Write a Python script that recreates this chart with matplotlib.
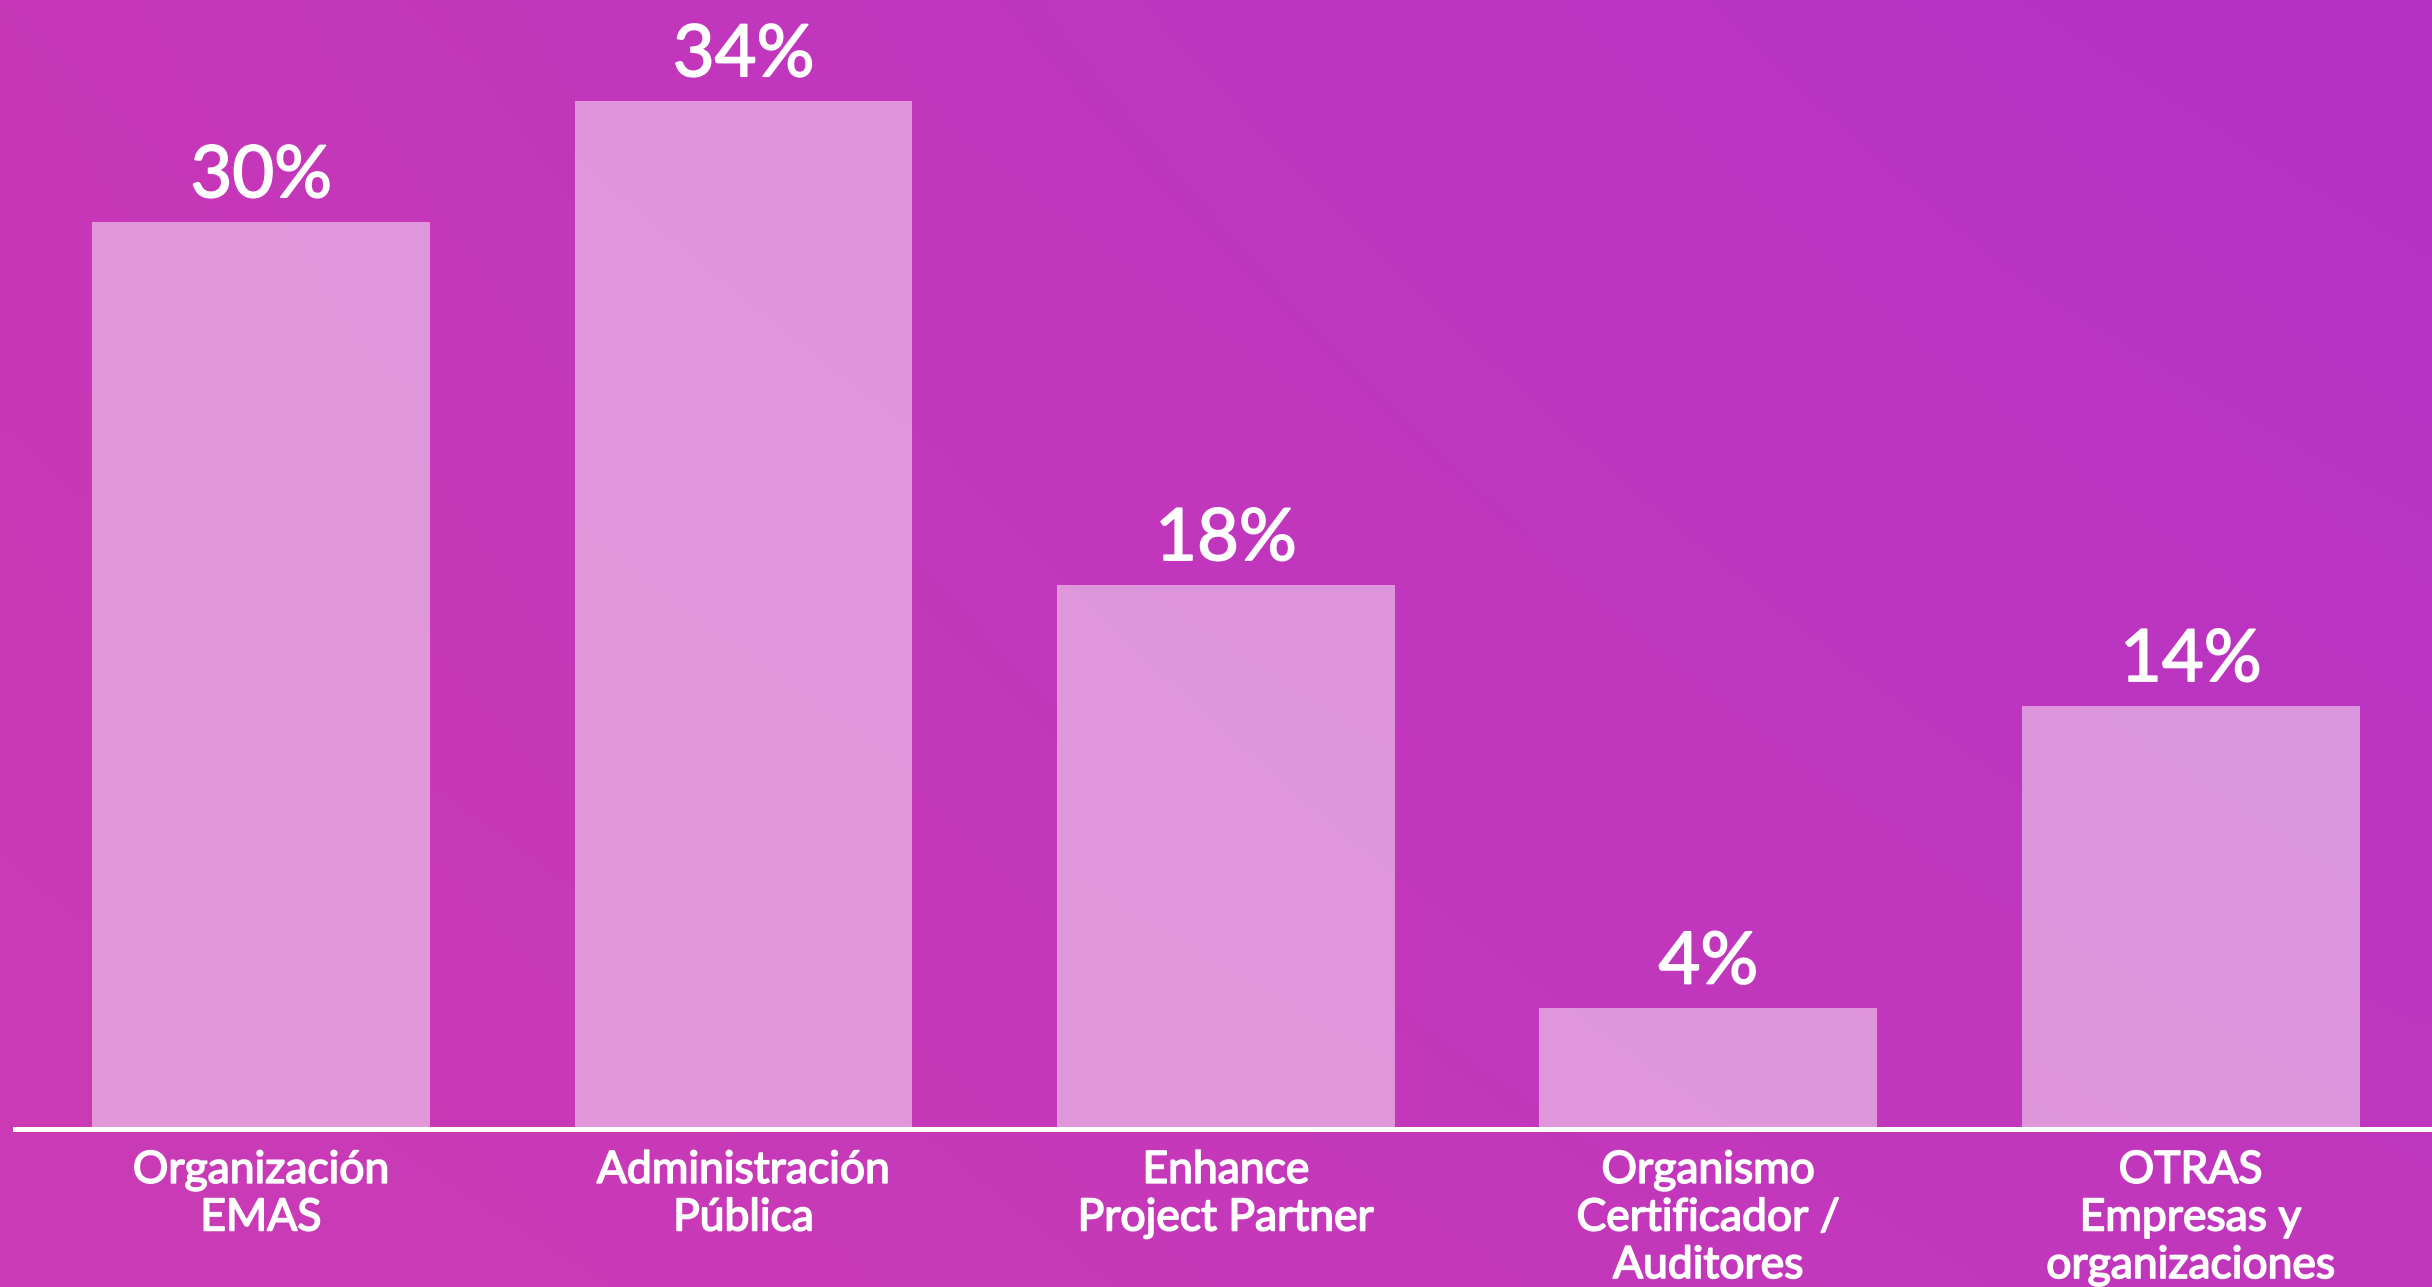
import numpy as np
import matplotlib
matplotlib.use("Agg")
import matplotlib.pyplot as plt
import matplotlib.patheffects as pe

# datos del gráfico
categorias = ["Organización\nEMAS", "Administración\nPública", "Enhance\nProject Partner",
              "Organismo\nCertificador /\nAuditores", "OTRAS\nEmpresas y\norganizaciones"]
valores = [30, 34, 18, 4, 14]
etiquetas = ["30%", "34%", "18%", "4%", "14%"]

plt.rcParams['font.family'] = ['Lato', 'DejaVu Sans']

fig = plt.figure(figsize=(24.32, 12.87), dpi=100)

# fondo degradado (esquinas: arriba-izq, arriba-der, abajo-izq, abajo-der)
bg = fig.add_axes([0, 0, 1, 1])
tl = np.array([198, 56, 184]) / 255
tr = np.array([181, 50, 198]) / 255
bl = np.array([203, 59, 181]) / 255
br = np.array([192, 55, 189]) / 255
u = np.linspace(0, 1, 256)[None, :, None]
v = np.linspace(0, 1, 128)[:, None, None]
img = (1 - v) * ((1 - u) * tl + u * tr) + v * ((1 - u) * bl + u * br)
bg.imshow(img, aspect='auto', extent=[0, 1, 0, 1], interpolation='bilinear')
bg.axis('off')

ax = fig.add_axes([15 / 2432, 158 / 1287, 2417 / 2432, 1129 / 1287])
ax.patch.set_alpha(0)
x = np.arange(len(valores))
bars = ax.bar(x, valores, width=0.7, color='white', alpha=0.48)
ax.set_xlim(-0.51, 4.5)
ax.set_ylim(0, 37.33)
ax.axhline(0, color='white', lw=3.6, clip_on=False)

# trazo fino para dar un peso "medium" al texto
grueso = [pe.withStroke(linewidth=1.2, foreground='white')]

for b, t in zip(bars, etiquetas):
    ax.annotate(t, (b.get_x() + b.get_width() / 2, b.get_height()),
                xytext=(0, 9), textcoords='offset points',
                ha='center', va='bottom', color='white', fontsize=52,
                path_effects=grueso)

for xi, c in zip(x, categorias):
    ax.annotate(c, (xi, 0), xytext=(0, -15), textcoords='offset points',
                ha='center', va='top', color='white', fontsize=32,
                linespacing=1.2, annotation_clip=False, path_effects=grueso)

for s in ax.spines.values():
    s.set_visible(False)
ax.set_xticks([])
ax.set_yticks([])

fig.savefig("out.png", dpi=100)
